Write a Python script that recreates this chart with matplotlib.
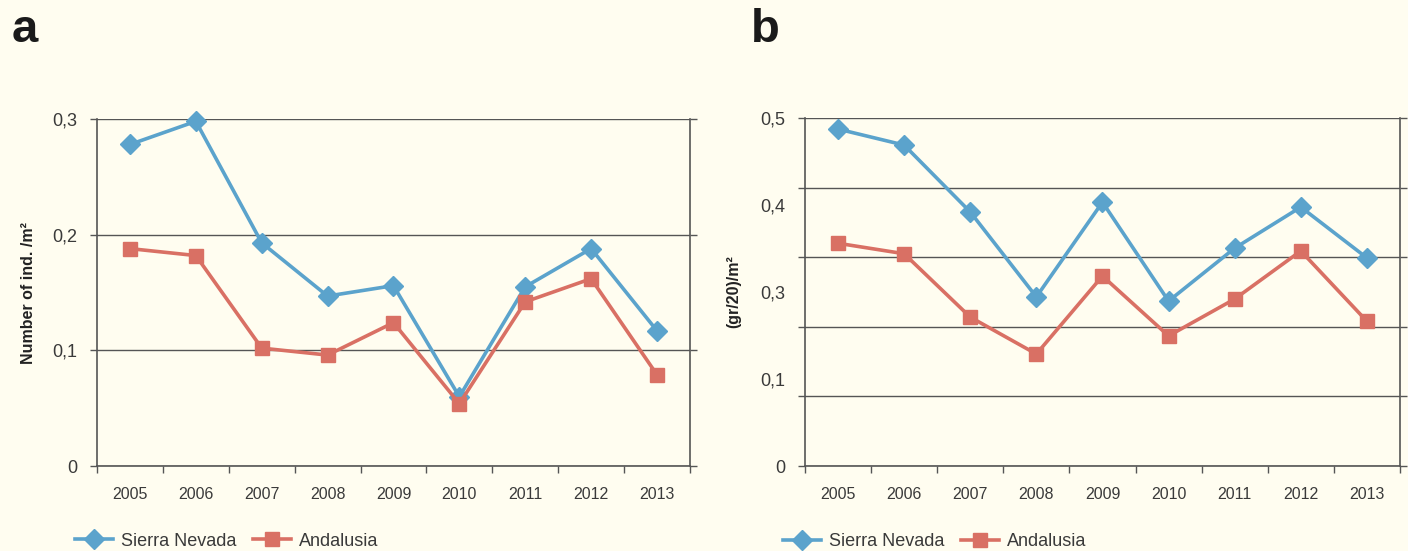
import numpy as np
import matplotlib.pyplot as plt

plt.rcParams['font.family'] = ['Liberation Sans', 'DejaVu Sans']

# data
years = ["2005", "2006", "2007", "2008", "2009", "2010", "2011", "2012", "2013"]

# a: number of individuals per m2
density_sierra = [0.278, 0.298, 0.193, 0.147, 0.156, 0.060, 0.155, 0.188, 0.117]
density_andalusia = [0.188, 0.182, 0.102, 0.096, 0.124, 0.054, 0.142, 0.162, 0.079]

# b: (gr/20)/m2
biomass_sierra = [0.484, 0.461, 0.365, 0.243, 0.379, 0.237, 0.313, 0.372, 0.299]
biomass_andalusia = [0.320, 0.305, 0.214, 0.161, 0.273, 0.187, 0.240, 0.309, 0.208]

bg = "#fffdf0"
blue = "#5ba3cc"
red = "#d97064"
axis_col = "#555555"
text_col = "#3a3a3a"

fig = plt.figure(figsize=(14.08, 5.51), dpi=100, facecolor=bg)
ax_a = fig.add_axes([0.0689, 0.154, 0.4211, 0.630])
ax_b = fig.add_axes([0.5717, 0.154, 0.4226, 0.632])

x = np.arange(len(years)) + 0.5


def style_axes(ax, ymax, grid_ticks):
    ax.set_facecolor(bg)
    ax.set_xlim(0, len(years))
    ax.set_ylim(0, ymax)
    ax.spines["top"].set_visible(False)
    for s in ["left", "bottom", "right"]:
        ax.spines[s].set_color(axis_col)
        ax.spines[s].set_linewidth(1.2)
    # boundary ticks on the x axis, labels centred on the categories
    ax.set_xticks(np.arange(len(years) + 1))
    ax.set_xticklabels([])
    ax.set_xticks(x, minor=True)
    ax.set_xticklabels(years, minor=True)
    ax.tick_params(axis="x", which="major", direction="out", length=5,
                   color=axis_col, width=1)
    ax.tick_params(axis="x", which="minor", length=0, pad=15,
                   labelsize=11.5, labelcolor=text_col)
    ax.set_yticks(grid_ticks)
    ax.tick_params(axis="y", which="major", direction="out", length=5,
                   color=axis_col, width=1, right=True,
                   labelsize=13, labelcolor=text_col, pad=9)
    ax.yaxis.grid(True, which="major", color=axis_col, linewidth=1)
    ax.set_axisbelow(True)


def draw(ax, sierra, andalusia):
    ax.plot(x, sierra, color=blue, lw=2.6, marker="D", ms=10.5,
            label="Sierra Nevada", zorder=3, clip_on=False)
    ax.plot(x, andalusia, color=red, lw=2.6, marker="s", ms=9.5,
            label="Andalusia", zorder=3, clip_on=False)
    ax.legend(loc="upper left", bbox_to_anchor=(-0.064, -0.145), ncol=2,
              frameon=False, fontsize=13, handlelength=2.1,
              columnspacing=0.9, handletextpad=0.45,
              labelcolor=text_col)


# panel a
style_axes(ax_a, 0.3, [0, 0.1, 0.2, 0.3])
ax_a.set_yticklabels(["0", "0,1", "0,2", "0,3"])
draw(ax_a, density_sierra, density_andalusia)
ax_a.set_ylabel("Number of ind. /m²", fontsize=11.5, fontweight="bold",
                color="#222222", labelpad=12)

# panel b: gridlines every 0.1, labels as printed in the original
style_axes(ax_b, 0.5, [0, 0.1, 0.2, 0.3, 0.4, 0.5])
ax_b.set_yticklabels([])
ax_b.yaxis.remove_overlapping_locs = False
label_pos = [0, 0.125, 0.25, 0.375, 0.5]
ax_b.set_yticks(label_pos, minor=True)
ax_b.set_yticklabels(["0", "0,1", "0,3", "0,4", "0,5"], minor=True)
ax_b.tick_params(axis="y", which="minor", length=0, pad=14,
                 labelsize=13, labelcolor=text_col)
draw(ax_b, biomass_sierra, biomass_andalusia)
ax_b.set_ylabel("(gr/20)/m²", fontsize=11.5, fontweight="bold",
                color="#222222", labelpad=14)

fig.text(0.008, 0.945, "a", fontsize=34, fontweight="bold", color="#1a1a1a",
         va="center")
fig.text(0.533, 0.945, "b", fontsize=34, fontweight="bold", color="#1a1a1a",
         va="center")

fig.savefig("out.png", dpi=100, facecolor=bg)
